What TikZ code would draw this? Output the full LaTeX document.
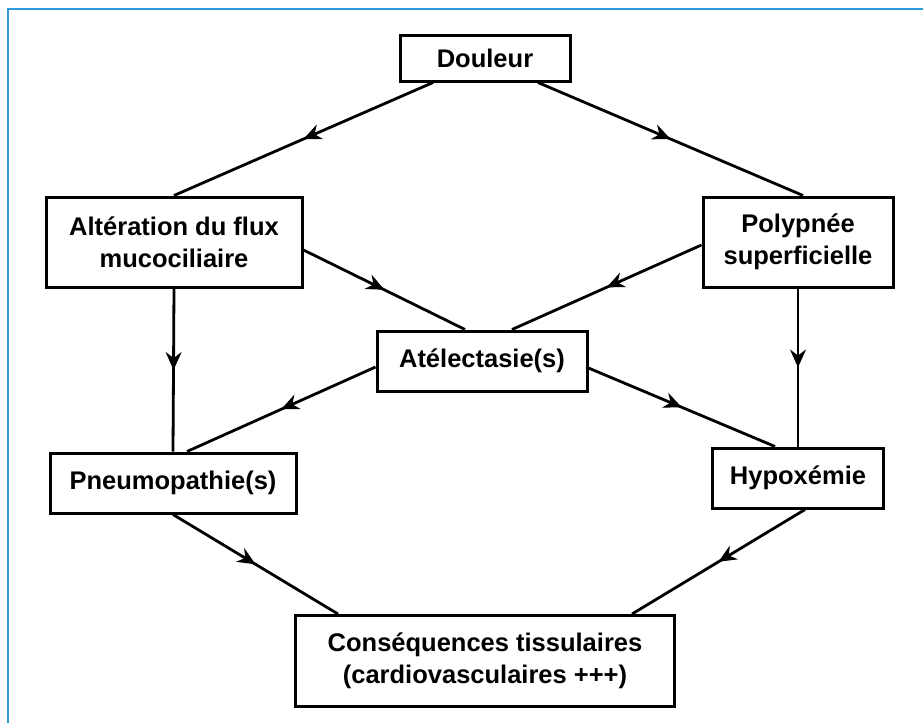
\documentclass[tikz,border=0pt]{standalone}
\usepackage{fontspec}
\setmainfont{Liberation Sans}
\usetikzlibrary{arrows.meta,decorations.markings}
\definecolor{frameblue}{RGB}{45,155,220}

\begin{document}
\begin{tikzpicture}[
    x=1pt,
    y=-1pt,
    box/.style={draw, line width=3pt, align=center, inner sep=0pt,
        font=\fontsize{25.5}{32}\selectfont\bfseries},
    link/.style={line width=2.8pt, postaction={decorate, decoration={markings,
        mark=at position 0.5 with {\arrow[line width=1pt]{Stealth[length=18pt,width=16pt,inset=6pt]}}}}}
]
\useasboundingbox (0,0) rectangle (923,723);
\draw[frameblue, line width=1.6pt] (8,723) -- (8,9) -- (923,9);

\node[box, minimum width=170, minimum height=46] (doul) at (485,58) {Douleur};
\node[box, minimum width=256, minimum height=90] (alt) at (174,242) {Altération du flux\\mucociliaire};
\node[box, minimum width=190, minimum height=90] (poly) at (798,242) {Polypnée\\superficielle};
\node[box, minimum width=210, minimum height=60] (atel) at (482,361) {Atélectasie(s)};
\node[box, minimum width=246, minimum height=60] (pneu) at (173,483) {Pneumopathie(s)};
\node[box, minimum width=171, minimum height=60] (hypo) at (798,478) {Hypoxémie};
\node[box, minimum width=379, minimum height=91] (cons) at (485,661) {Conséquences tissulaires\\(cardiovasculaires +++)};

\draw[link] ([xshift=-52pt]doul.south) -- (alt.north);
\draw[link] ([xshift=53pt]doul.south) -- ([xshift=5pt]poly.north);
\draw[link] ([yshift=-8pt]alt.east) -- ([xshift=-17pt]atel.north);
\draw[link] ([yshift=-3pt]poly.west) -- ([xshift=30pt]atel.north);
\draw[link] (alt.south) -- (pneu.north);
\draw[link] (poly.south) -- (hypo.north);
\draw[link] ([yshift=-6pt]atel.west) -- ([xshift=14pt]pneu.north);
\draw[link] ([yshift=-7pt]atel.east) -- ([xshift=-23pt]hypo.north);
\draw[link] (pneu.south) -- ([xshift=-147pt]cons.north);
\draw[link] ([xshift=7pt]hypo.south) -- ([xshift=147pt]cons.north);
\end{tikzpicture}
\end{document}
